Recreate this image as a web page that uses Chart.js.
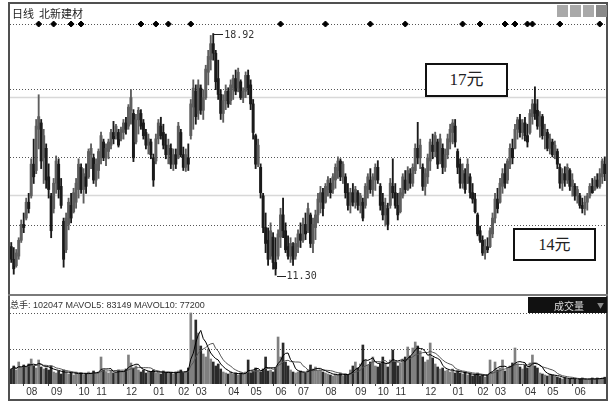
<!DOCTYPE html>
<html><head><meta charset="utf-8">
<script src="https://cdn.jsdelivr.net/npm/chart.js@4.4.0/dist/chart.umd.min.js"></script>
<style>
html,body{margin:0;padding:0;background:#fff;}
#wrap{position:relative;width:616px;height:407px;overflow:hidden;background:#fff;font-family:"Liberation Sans","Noto Sans CJK SC",sans-serif;}
#pc{position:absolute;left:0;top:0;width:616px;height:296px;}
#vc{position:absolute;left:0;top:296px;width:616px;height:111px;}
canvas{display:block;}
#frame{position:absolute;left:8px;top:2px;width:600px;height:399px;border:2px solid #505050;box-sizing:border-box;pointer-events:none;}
#divider{position:absolute;left:8px;top:294px;width:600px;height:2px;background:#7a7a7a;}
#title{position:absolute;left:12px;top:5px;font-size:11px;color:#222;font-family:"Noto Sans CJK SC",sans-serif;white-space:pre;}
#volhead{position:absolute;left:10px;top:298px;font-size:9px;color:#333;white-space:pre;}
#volbox{position:absolute;left:528px;top:297px;width:79px;height:16px;background:#111;color:#ddd;font-size:10px;font-family:"Noto Sans CJK SC",sans-serif;}
#volbox .t{position:absolute;left:26px;top:1px;}
#volbox .a{position:absolute;left:69px;top:3px;font-size:7px;color:#888;}
.ico{position:absolute;top:5px;width:11px;height:12px;background:#a9a9a9;}
.box{position:absolute;border:2px solid #111;box-sizing:border-box;background:#fff;font-family:"Liberation Serif","Noto Sans CJK SC",serif;color:#222;text-align:center;}
.mk{position:absolute;font-family:"DejaVu Sans Mono",monospace;font-size:10px;color:#333;white-space:nowrap;line-height:12px;}
.mk .ln{display:inline-block;width:9px;height:1px;background:#222;vertical-align:middle;margin-right:1px;}
</style></head>
<body>
<div id="wrap">
  <div id="pc"><canvas id="priceCanvas" width="616" height="296"></canvas></div>
  <div id="vc"><canvas id="volCanvas" width="616" height="111"></canvas></div>
  <div id="frame"></div>
  <div id="divider"></div>
  <div id="title">日线  北新建材</div>
  <div class="ico" style="left:557px"></div>
  <div class="ico" style="left:570px"></div>
  <div class="ico" style="left:583px"></div>
  <div class="ico" style="left:596px;background:#8a8a8a"></div>
  <div id="volhead"></div>
  <div id="volbox"><span class="t">成交量</span><span class="a">▼</span></div>
  <div class="box" style="left:425px;top:63px;width:83px;height:34px;font-size:17px;line-height:30px;">17元</div>
  <div class="box" style="left:513px;top:228px;width:83px;height:33px;font-size:16px;line-height:29px;">14元</div>
  <div class="mk" id="hiLab"><span class="ln"></span><span class="v"></span></div>
  <div class="mk" id="loLab"><span class="ln"></span><span class="v"></span></div>
</div>
<script>
// ---- data (daily candles, price in yuan) ----
const opens = [
12.2,11.8,11.6,11.9,12.4,12.9,13.1,13.6,13.8,14.8,
14.6,15.9,16.1,15.0,15.3,14.4,13.8,13.4,14.2,14.8,
14.1,13.0,12.1,12.9,13.5,13.3,13.6,14.0,14.7,14.0,
14.4,14.4,15.1,15.0,14.3,14.6,15.0,15.5,15.0,15.2,
15.4,15.8,15.7,15.8,15.6,15.8,16.1,16.0,16.5,16.4,
15.5,16.2,16.4,16.1,15.8,15.4,15.5,15.0,14.9,15.6,
16.0,15.8,15.4,15.1,15.3,14.8,15.1,15.0,15.8,15.1,
14.7,15.0,15.7,16.6,17.1,16.4,17.2,16.5,16.9,17.7,
18.1,18.6,18.3,17.5,17.0,16.4,16.8,17.1,16.8,17.2,
17.5,17.2,17.4,16.9,17.1,17.6,17.3,16.7,15.7,14.8,
14.7,13.8,12.8,12.4,11.9,12.5,11.7,11.9,12.5,13.2,
12.7,12.2,11.9,12.2,11.9,12.2,12.6,12.4,12.9,12.7,
13.2,12.3,12.8,13.2,13.6,13.9,13.6,14.0,14.2,14.0,
14.3,14.6,14.9,14.4,14.4,13.9,13.5,13.9,13.6,13.9,
13.5,13.6,13.5,14.0,14.3,14.0,14.3,14.7,14.1,13.6,
13.2,13.4,13.5,14.1,13.9,13.5,13.3,13.8,14.3,14.0,
14.5,14.2,14.6,15.3,15.0,14.7,14.1,14.4,14.9,15.4,
15.2,15.5,14.9,15.3,14.7,15.1,15.5,15.8,16.0,15.2,
14.8,14.2,14.5,14.2,14.4,13.9,13.7,13.2,12.7,12.4,
12.0,12.2,12.2,12.6,13.1,13.7,13.6,14.1,14.5,14.3,
14.8,15.3,15.3,15.9,16.2,15.8,16.1,15.7,15.8,16.3,
16.7,16.5,16.0,16.3,15.7,15.8,15.3,15.5,15.1,15.2,
14.7,14.2,14.5,14.3,14.6,14.1,14.1,13.8,13.8,13.5,
13.4,13.6,13.8,14.1,14.0,14.3,14.1,14.4,14.8];
const highs = [
12.33,12.17,12.11,12.48,13.04,13.26,13.73,13.88,14.97,15.59,
16.21,16.99,16.21,15.90,15.44,14.81,13.88,14.35,15.06,14.97,
14.35,13.10,13.26,13.73,13.88,14.04,14.35,14.97,14.81,14.66,
14.81,15.28,15.44,15.12,14.97,15.28,15.81,15.59,15.44,15.59,
15.90,16.15,16.06,15.90,15.97,16.21,16.28,16.68,17.15,16.52,
16.37,16.59,16.52,16.21,15.90,15.75,15.59,15.12,15.75,16.21,
16.28,16.06,15.75,15.59,15.44,15.28,15.28,16.12,15.90,15.34,
15.28,15.44,16.84,17.46,17.30,17.46,17.30,17.15,17.92,18.39,
18.86,18.92,18.39,18.08,17.15,16.99,17.30,17.21,17.46,17.61,
17.77,17.83,17.46,17.21,17.71,17.77,17.46,16.84,15.75,15.59,
14.81,13.88,13.26,12.79,12.95,12.64,12.48,12.73,13.41,13.73,
12.95,12.54,12.48,12.33,12.48,12.73,12.95,13.10,13.26,13.57,
13.26,13.10,13.35,13.88,14.10,14.04,14.19,14.41,14.35,14.50,
14.81,15.03,14.97,14.88,14.50,14.19,14.04,14.19,14.10,13.97,
13.88,13.73,14.19,14.50,14.66,14.50,14.81,14.91,14.19,13.88,
13.73,13.57,14.35,14.97,14.19,13.88,14.04,14.50,14.60,14.72,
14.66,14.81,15.44,16.12,15.59,14.81,14.66,15.12,15.59,15.75,
15.81,15.59,15.75,15.44,15.28,15.75,16.06,16.21,16.21,15.28,
14.97,14.81,14.66,14.97,14.50,14.19,13.88,13.26,12.85,12.54,
12.42,12.48,12.79,13.26,13.88,14.04,14.35,14.66,14.81,14.97,
15.44,15.59,16.06,16.28,16.37,16.21,16.28,16.06,16.52,16.84,
17.24,16.84,16.46,16.37,16.06,15.90,15.75,15.59,15.53,15.28,
14.81,14.66,14.72,14.81,14.66,14.50,14.19,14.10,13.88,13.73,
13.79,13.88,14.19,14.35,14.41,14.50,14.66,14.97,15.03];
const lows = [
11.70,11.33,11.55,11.80,12.33,12.64,13.04,13.26,13.73,14.19,
14.50,15.28,14.66,14.19,14.04,13.73,12.48,13.26,13.88,13.73,
13.41,11.55,12.01,12.73,12.95,13.26,13.41,13.73,13.88,13.57,
13.88,14.35,14.66,14.19,14.10,14.35,14.81,14.91,14.75,14.97,
15.28,15.44,15.59,15.34,15.53,15.59,15.75,15.90,16.06,14.88,
15.44,15.75,15.90,15.59,15.28,15.12,14.97,14.10,14.81,15.44,
15.59,15.28,14.97,14.81,14.66,14.60,14.66,14.97,15.03,14.60,
14.57,14.60,15.59,15.90,16.06,16.21,16.37,16.21,16.84,17.30,
17.77,18.08,17.15,16.84,16.21,16.12,16.52,16.59,16.68,16.84,
16.99,17.08,16.84,16.74,16.90,16.99,16.52,15.59,14.66,14.72,
13.73,12.64,12.01,11.61,11.80,11.49,11.30,11.80,12.17,12.48,
12.01,11.80,11.70,11.61,11.80,12.01,12.17,12.33,12.42,12.64,
12.17,12.01,12.42,12.95,13.26,13.17,13.57,13.79,13.73,13.88,
14.04,14.35,14.28,14.19,13.73,13.35,13.26,13.48,13.41,13.35,
13.26,13.01,13.41,13.73,13.88,13.79,13.97,14.19,13.35,13.04,
12.85,12.73,13.41,13.73,13.41,13.04,13.26,13.73,13.88,13.97,
14.04,14.10,14.50,14.81,14.66,13.97,13.82,14.19,14.60,14.97,
15.03,14.66,14.81,14.50,14.57,14.97,15.28,15.44,15.34,14.50,
14.04,14.04,13.88,14.19,13.73,13.57,13.26,12.54,12.33,11.92,
11.80,12.01,12.17,12.48,12.95,13.26,13.57,13.88,14.04,14.19,
14.66,14.81,15.28,15.59,15.65,15.59,15.53,15.34,15.75,16.06,
16.21,15.90,15.65,15.59,15.28,15.22,15.12,15.03,14.97,14.66,
14.04,13.97,14.10,14.19,13.97,13.79,13.66,13.57,13.41,13.26,
13.20,13.35,13.73,13.88,13.97,14.04,14.04,14.19,14.28];
const closes = [
11.8,11.5,12.0,12.4,12.9,12.8,13.6,13.4,14.8,14.4,
16.0,16.3,14.9,15.7,14.3,14.0,12.7,14.2,14.9,14.0,
13.5,11.8,13.1,13.6,13.1,13.9,14.2,14.8,14.0,14.5,
14.1,15.2,15.3,14.3,14.8,15.2,15.7,15.0,15.3,15.5,
15.8,15.6,16.0,15.4,15.9,16.1,15.9,16.6,16.9,15.0,
16.2,16.5,16.0,15.7,15.4,15.6,15.1,14.3,15.6,16.1,
15.7,15.4,15.1,15.4,14.8,15.1,14.8,16.0,15.1,14.7,
15.1,14.8,16.7,17.2,16.3,17.3,16.5,16.9,17.8,18.2,
18.6,18.3,17.4,17.0,16.4,16.8,17.1,16.7,17.3,17.5,
17.1,17.7,16.9,17.1,17.6,17.2,16.7,15.8,14.8,15.4,
13.9,12.8,12.3,11.8,12.7,11.7,11.5,12.6,13.2,12.7,
12.1,11.9,12.3,11.8,12.3,12.6,12.4,12.9,12.6,13.4,
12.3,12.9,13.2,13.7,13.9,13.4,14.1,14.3,13.9,14.4,
14.7,14.9,14.4,14.8,13.9,13.5,13.9,13.6,14.0,13.5,
13.8,13.1,14.1,14.4,14.0,14.4,14.7,14.3,13.5,13.2,
13.5,12.9,14.2,13.9,13.5,13.2,13.9,14.4,14.0,14.6,
14.2,14.7,15.3,15.0,15.4,14.1,14.5,15.0,15.5,15.2,
15.7,14.8,15.6,14.7,15.1,15.6,15.9,16.1,15.5,14.7,
14.2,14.6,14.0,14.8,13.9,13.7,13.3,12.6,12.4,12.0,
12.2,12.1,12.7,13.1,13.7,13.4,14.2,14.5,14.2,14.9,
15.3,15.0,15.9,16.2,15.8,16.1,15.7,15.5,16.4,16.7,
16.4,16.0,16.3,15.7,15.9,15.3,15.6,15.1,15.4,14.8,
14.2,14.5,14.3,14.7,14.1,14.3,13.8,14.0,13.5,13.4,
13.6,13.8,14.1,13.9,14.3,14.1,14.5,14.9,14.5];
// volume (手)
const volumes = [
225000,270000,210000,330000,240000,285000,255000,300000,375000,270000,
240000,360000,255000,225000,240000,210000,270000,180000,165000,195000,
150000,210000,180000,150000,165000,135000,180000,150000,165000,135000,
150000,180000,165000,195000,150000,180000,405000,210000,180000,165000,
195000,165000,180000,210000,180000,195000,225000,435000,315000,240000,
270000,210000,180000,210000,165000,195000,180000,210000,165000,180000,
150000,195000,165000,180000,165000,150000,180000,195000,210000,165000,
180000,240000,1065000,660000,960000,765000,570000,450000,405000,525000,
375000,330000,270000,300000,225000,180000,165000,150000,180000,150000,
165000,135000,165000,150000,180000,360000,165000,195000,240000,210000,
180000,225000,405000,195000,210000,180000,240000,705000,405000,615000,
330000,270000,210000,180000,165000,180000,195000,180000,165000,210000,
285000,225000,255000,195000,210000,180000,165000,150000,135000,120000,
150000,135000,165000,120000,150000,135000,210000,270000,330000,240000,
300000,585000,360000,285000,330000,405000,270000,255000,300000,405000,
315000,255000,360000,510000,330000,270000,315000,375000,405000,555000,
420000,540000,630000,570000,495000,405000,330000,360000,615000,390000,
300000,255000,225000,240000,195000,210000,180000,225000,165000,195000,
165000,150000,180000,135000,150000,120000,135000,165000,120000,135000,
105000,135000,360000,180000,330000,210000,240000,360000,195000,225000,
270000,315000,540000,300000,255000,225000,285000,240000,315000,435000,
270000,240000,165000,150000,135000,120000,150000,135000,120000,105000,
90000,75000,90000,75000,75000,90000,75000,60000,75000,90000,
75000,60000,75000,90000,75000,90000,75000,90000,102047];
// month axis: first candle of each month and its label
const monthStarts = [5,15,26,33,45,56,66,73,86,95,105,114,125,137,146,153,165,176,186,193,205,214,225];
const monthNames  = ['08','09','10','11','12','01','02','03','04','05','06','07','08','09','10','11','12','01','02','03','04','05','06'];
// signal diamonds along the top line
const signalIdx = [11,17,24,28,52,58,63,72,108,126,144,158,181,188,198,202,207,209,220,236];
const signalLevel = 19.22;
// reference levels of the two panels
const priceDotted = [19.22,17.18,15.03,12.89];
const priceSolid  = [16.93,13.82];
const volDotted   = [525000,1065000];
const priceMin = 10.80, priceMax = 19.82;
const volMax = 1320000;
const mavol5Text = 83149, mavol10Text = 77200;

// ---- derived for drawing ----
const N = closes.length;
const cats = closes.map((_, i) => i);
const upCol = '#5e5e5e', dnCol = '#1a1a1a';
const dirCol = closes.map((c, i) => c >= opens[i] ? upCol : dnCol);
const volCol = closes.map((c, i) => c >= opens[i] ? '#808080' : '#2a2a2a');
function mavol(n){
  return volumes.map((_, i) => {
    const s = Math.max(0, i - n + 1);
    const w = volumes.slice(s, i + 1);
    return w.reduce((a, b) => a + b, 0) / w.length;
  });
}
const ma5 = mavol(5), ma10 = mavol(10);
document.getElementById('volhead').textContent =
  '总手: ' + volumes[N-1] + ' MAVOL5: ' + mavol5Text + ' MAVOL10: ' + mavol10Text;

function hline(chart, values, scaleId, color, dash, width){
  const ctx = chart.ctx, a = chart.chartArea, s = chart.scales[scaleId];
  ctx.save();
  ctx.strokeStyle = color; ctx.lineWidth = width; ctx.setLineDash(dash);
  values.forEach(v => {
    const y = Math.round(s.getPixelForValue(v)) + 0.5;
    ctx.beginPath(); ctx.moveTo(a.left, y); ctx.lineTo(a.right, y); ctx.stroke();
  });
  ctx.restore();
}
const priceGrid = {
  id: 'priceGrid',
  beforeDatasetsDraw(chart){
    hline(chart, priceSolid, 'y', '#d8d8d8', [], 1.5);
    hline(chart, priceDotted, 'y', '#555', [1, 2], 1);
  },
  afterDraw(chart){
    const xs = chart.scales.x, ys = chart.scales.y;
    const hi = Math.max(...highs), hiI = highs.indexOf(hi);
    const lo = Math.min(...lows), loI = lows.indexOf(lo);
    const put = (id, i, v) => {
      const el = document.getElementById(id);
      el.querySelector('.v').textContent = v.toFixed(2);
      el.style.left = (xs.getPixelForValue(i) + 1) + 'px';
      el.style.top = (ys.getPixelForValue(v) - 5) + 'px';
    };
    put('hiLab', hiI, hi);
    put('loLab', loI, lo);
  }
};
const volGrid = {
  id: 'volGrid',
  beforeDatasetsDraw(chart){ hline(chart, volDotted, 'y', '#555', [1, 2], 1); }
};

Chart.defaults.font.family = '"Liberation Sans", sans-serif';
new Chart(document.getElementById('priceCanvas'), {
  type: 'bar',
  data: {
    labels: cats,
    datasets: [
      { data: lows.map((l, i) => [l, highs[i]]), backgroundColor: dirCol, barThickness: 1.2, grouped: false, order: 2 },
      { data: opens.map((o, i) => [o, closes[i]]), backgroundColor: dirCol, barThickness: 2.3, grouped: false, order: 1, minBarLength: 1 },
      { type: 'line', data: cats.map(i => signalIdx.includes(i) ? signalLevel : null), showLine: false,
        pointStyle: 'rectRot', pointRadius: 3, pointBackgroundColor: '#000', pointBorderColor: '#000', order: 0 }
    ]
  },
  options: {
    responsive: false, animation: false, devicePixelRatio: 1,
    layout: { padding: { left: 10, right: 10, top: 4, bottom: 2 } },
    plugins: { legend: { display: false }, tooltip: { enabled: false } },
    scales: {
      x: { display: false, offset: true },
      y: { display: false, min: priceMin, max: priceMax }
    }
  },
  plugins: [priceGrid]
});

const tickMap = {};
monthStarts.forEach((s, k) => tickMap[s] = monthNames[k]);
new Chart(document.getElementById('volCanvas'), {
  type: 'bar',
  data: {
    labels: cats,
    datasets: [
      { data: volumes, backgroundColor: volCol, barThickness: 2, order: 2 },
      { type: 'line', data: ma5, borderColor: '#000', borderWidth: 1, pointRadius: 0, tension: 0, order: 1 },
      { type: 'line', data: ma10, borderColor: '#555', borderWidth: 1, pointRadius: 0, tension: 0, order: 1 }
    ]
  },
  options: {
    responsive: false, animation: false, devicePixelRatio: 1,
    layout: { padding: { left: 10, right: 10, top: 0, bottom: 6 } },
    plugins: { legend: { display: false }, tooltip: { enabled: false } },
    scales: {
      x: {
        offset: true,
        afterBuildTicks: ax => { ax.ticks = monthStarts.map(v => ({ value: v })); },
        afterFit: ax => { ax.height = 17; },
        grid: { display: true, drawOnChartArea: false, drawTicks: true, tickLength: 2, color: '#444', offset: false },
        border: { display: false },
        ticks: { autoSkip: false, maxRotation: 0, minRotation: 0, padding: 0, labelOffset: 8,
                 color: '#333', font: { size: 10 }, callback: v => tickMap[v] || '' }
      },
      y: { display: false, min: 0, max: volMax }
    }
  },
  plugins: [volGrid]
});
</script>
</body></html>
